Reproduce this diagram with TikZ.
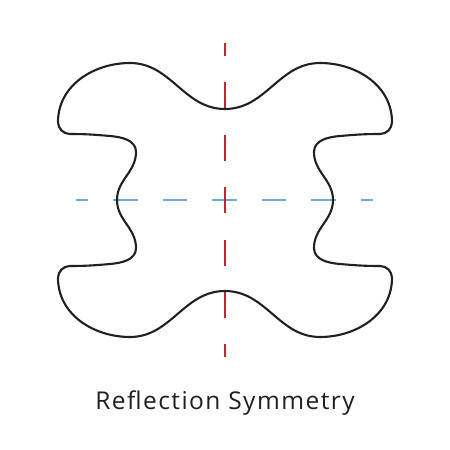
\documentclass[tikz,border=0pt]{standalone}
\usepackage{fontspec}
\setmainfont{Open Sans}
\newfontfamily\captionfont[LetterSpace=6]{Open Sans}
\usepackage{xcolor}
\definecolor{symred}{HTML}{C1272D}
\definecolor{symblue}{HTML}{6FA8DC}
\definecolor{inkdark}{HTML}{231F20}

\begin{document}
\begin{tikzpicture}[
  x=1pt,y=1pt,
  axis/.style={line width=2pt},
  shapeline/.style={draw=inkdark,line width=2.1pt,line join=round},
  caption/.style={font=\captionfont\fontsize{24.5}{28}\selectfont,text=inkdark,anchor=base,inner sep=0pt}
]
\useasboundingbox (-225,-250) rectangle (225,200);
% mirror axes
\draw[axis,symblue,dash pattern=on 24.75pt off 24.75pt,dash phase=12.4pt]
  (-149,0) -- (148,0);
\draw[axis,symred,dash pattern=on 26.2pt off 26.2pt,dash phase=13.1pt]
  (0,157) -- (0,-157);
% the blob, left half then right half
\draw[shapeline]
  (0,91) to[out=180,in=0] (-95,137)
  to[out=180,in=90] (-167,78)
  to[out=-90,in=180] (-155,66)
  to[out=0,in=175] (-115,64)
  to[out=-5,in=90] (-89,48)
  to[out=-90,in=90] (-108,0)
  to[out=-90,in=90] (-89,-48)
  to[out=-90,in=5] (-115,-64)
  to[out=185,in=0] (-155,-66)
  to[out=180,in=90] (-167,-78)
  to[out=-90,in=180] (-95,-137)
  to[out=0,in=180] (0,-91)
  to[out=0,in=180] (95,-137)
  to[out=0,in=-90] (167,-78)
  to[out=90,in=0] (155,-66)
  to[out=180,in=-5] (115,-64)
  to[out=175,in=-90] (89,-48)
  to[out=90,in=-90] (108,0)
  to[out=90,in=-90] (89,48)
  to[out=90,in=185] (115,64)
  to[out=5,in=180] (155,66)
  to[out=0,in=-90] (167,78)
  to[out=90,in=0] (95,137)
  to[out=180,in=0] cycle;
\node[caption] (title) at (0,-209) {Reflection Symmetry};
\end{tikzpicture}
\end{document}
